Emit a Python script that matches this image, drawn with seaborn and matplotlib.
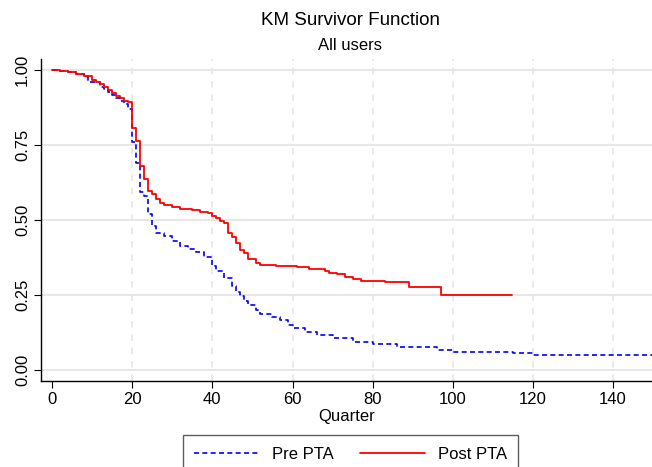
import pandas as pd
import numpy as np
import matplotlib
matplotlib.use("Agg")
import matplotlib.pyplot as plt
import seaborn as sns

# ---------------------------
# Kaplan-Meier step values
# ---------------------------
pre_quarter = [0, 2, 4, 6, 8, 9, 12, 13, 14, 15, 16, 17, 18, 19, 20, 21, 22, 23,
               24, 25, 26, 28, 30, 32, 34, 36, 38, 40, 41, 43, 45, 46, 47, 48, 49,
               51, 52, 55, 57, 59, 60, 63, 66, 70, 75, 80, 86, 96, 100, 115, 120, 150]
pre_surv = [1.0, 0.997, 0.993, 0.985, 0.975, 0.961, 0.944, 0.935, 0.928, 0.915,
            0.905, 0.897, 0.888, 0.870, 0.760, 0.690, 0.594, 0.580, 0.520, 0.480,
            0.458, 0.445, 0.430, 0.413, 0.404, 0.393, 0.375, 0.345, 0.330, 0.306,
            0.280, 0.260, 0.245, 0.230, 0.218, 0.200, 0.186, 0.176, 0.167, 0.150,
            0.140, 0.128, 0.118, 0.106, 0.094, 0.086, 0.076, 0.067, 0.059, 0.056,
            0.050, 0.050]

post_quarter = [0, 2, 4, 6, 8, 10, 11, 12, 13, 14, 15, 16, 17, 18, 19, 20, 21, 22,
                23, 24, 25, 26, 27, 28, 30, 32, 35, 37, 39, 40, 41, 42, 43, 44, 45,
                46, 47, 48, 49, 51, 52, 56, 61, 64, 68, 69, 71, 73, 75, 77, 83, 89,
                97, 114.7]
post_surv = [1.0, 0.997, 0.993, 0.987, 0.980, 0.968, 0.960, 0.952, 0.943, 0.932,
             0.924, 0.912, 0.905, 0.898, 0.893, 0.806, 0.764, 0.680, 0.637, 0.597,
             0.586, 0.569, 0.556, 0.550, 0.543, 0.538, 0.533, 0.528, 0.522, 0.512,
             0.505, 0.498, 0.489, 0.456, 0.444, 0.422, 0.400, 0.389, 0.369, 0.356,
             0.349, 0.347, 0.342, 0.337, 0.331, 0.324, 0.319, 0.311, 0.303, 0.298,
             0.293, 0.276, 0.250, 0.250]

x_ticks = [0, 20, 40, 60, 80, 100, 120, 140]
y_ticks = [0.0, 0.25, 0.5, 0.75, 1.0]
y_tick_labels = ["0.00", "0.25", "0.50", "0.75", "1.00"]

pre_df = pd.DataFrame({"quarter": pre_quarter, "surv": pre_surv})
post_df = pd.DataFrame({"quarter": post_quarter, "surv": post_surv})

# ---------------------------
# Plot
# ---------------------------
sns.set_style("white")
plt.rcParams["font.family"] = ["Liberation Sans", "DejaVu Sans"]
plt.rcParams["text.color"] = "black"
plt.rcParams["axes.labelcolor"] = "black"
plt.rcParams["xtick.color"] = "black"
plt.rcParams["ytick.color"] = "black"

fig = plt.figure(figsize=(6.52, 4.67), dpi=100)
ax = fig.add_axes([0.0629, 0.184, 0.9371, 0.690])

# grid like Stata: solid horizontal, dashed vertical
for y in y_ticks:
    ax.axhline(y, color="#e3e3e3", lw=1.2, zorder=0)
for x in x_ticks[1:]:
    ax.axvline(x, color="#e6e6e6", lw=1.2, ls=(0, (4, 4)), zorder=0)

sns.lineplot(data=pre_df, x="quarter", y="surv", ax=ax, color="#0000ff",
             linestyle=(0, (3, 2)), lw=1.2, drawstyle="steps-post",
             errorbar=None, label="Pre PTA")
sns.lineplot(data=post_df, x="quarter", y="surv", ax=ax, color="#ff0000",
             lw=1.3, drawstyle="steps-post", errorbar=None, label="Post PTA")

ax.set_xlim(-2.75, 149.7)
ax.set_ylim(-0.037, 1.037)
ax.set_xticks(x_ticks)
ax.set_yticks(y_ticks)
ax.set_yticklabels(y_tick_labels, rotation=90, va="center")
ax.tick_params(axis="both", labelsize=12, length=5, width=0.8, colors="black",
               pad=3, direction="out", bottom=True, left=True)
ax.set_xlabel("Quarter", fontsize=12, labelpad=1, color="black")
ax.set_ylabel("")

for side in ["top", "right"]:
    ax.spines[side].set_visible(False)
for side in ["left", "bottom"]:
    ax.spines[side].set_color("black")
    ax.spines[side].set_linewidth(1.0)

fig.text(0.537, 0.956, "KM Survivor Function", ha="center", va="center",
         fontsize=13.5, color="black")
fig.text(0.537, 0.903, "All users", ha="center", va="center", fontsize=12,
         color="black")

handles, labels = ax.get_legend_handles_labels()
ax.get_legend().remove()
leg = fig.legend(handles, labels, loc="upper center", bbox_to_anchor=(0.5376, 0.068),
                 ncol=2, fontsize=12, frameon=True, fancybox=False,
                 handlelength=3.9, handletextpad=0.75, columnspacing=1.6,
                 borderpad=0.7, borderaxespad=0, labelcolor="black")
leg.get_frame().set_edgecolor("#333333")
leg.get_frame().set_linewidth(1.0)

plt.savefig("out.png", dpi=100)
